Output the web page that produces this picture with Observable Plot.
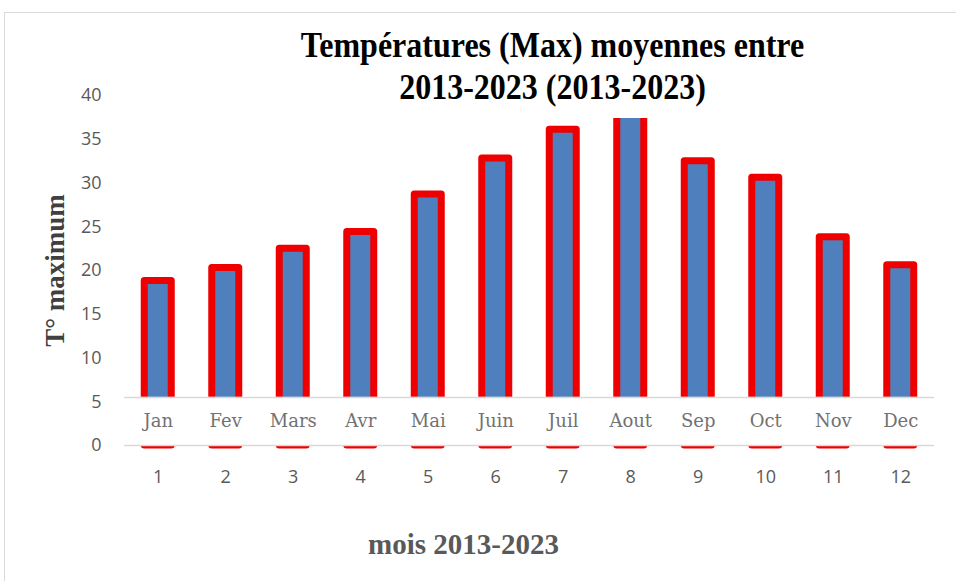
<!DOCTYPE html>
<html><head><meta charset="utf-8">
<script src="https://cdn.jsdelivr.net/npm/d3@7"></script>
<script src="https://cdn.jsdelivr.net/npm/@observablehq/plot@0.6"></script>
<style>
body{margin:0;background:#fff;}
#wrap{position:relative;width:956px;height:581px;overflow:hidden;background:#fff;}
#frame{position:absolute;left:4px;top:12px;width:960px;height:580px;border-left:1.5px solid #d9d9d9;border-top:1.5px solid #d9d9d9;}
#chart{position:absolute;left:0;top:0;}
#title{position:absolute;left:295px;width:515px;top:24px;height:94px;background:#fff;text-align:center;font-family:"Liberation Serif",serif;font-weight:bold;font-size:32px;line-height:42px;color:#000;white-space:nowrap;}
#title span{display:inline-block;transform:scaleY(1.1);}
</style></head>
<body>
<div id="wrap">
  <div id="frame"></div>
  <div id="chart"></div>
  <div id="title"><span>Températures (Max) moyennes entre</span><br><span>2013-2023 (2013-2023)</span></div>
</div>
<script>
const months = [1,2,3,4,5,6,7,8,9,10,11,12];
const monthNames = ["Jan","Fev","Mars","Avr","Mai","Juin","Juil","Aout","Sep","Oct","Nov","Dec"];
const tmax = [18.8,20.3,22.5,24.4,28.7,32.8,36.1,38.6,32.5,30.6,23.8,20.6];
const yTicks = [0,5,10,15,20,25,30,35,40];
const yTitle = "T° maximum";
const xTitle = "mois 2013-2023";

const data = months.map((m,i)=>({m, name: monthNames[i], t: tmax[i]}));

const plot = Plot.plot({
  width: 956, height: 581,
  marginLeft: 124, marginRight: 22, marginTop: 95, marginBottom: 136,
  style: {fontFamily: "'Open Sans', sans-serif", fontSize: "18px", color: "#595959", background: "transparent", overflow: "visible"},
  x: {type: "band", domain: months, paddingInner: 0.6, paddingOuter: 0.3, round: false, label: null, tickSize: 0, tickPadding: 25},
  y: {domain: [0,40], ticks: yTicks, label: null, tickSize: 0, tickPadding: 23},
  marks: [
    Plot.barY(data, {x: "m", y: "t", fill: "#4f7fbd", stroke: "#ee0000", strokeWidth: 7, strokeLinejoin: "round", ariaLabel: "bars"}),
    Plot.rect([0], {y1: () => 0, y2: () => 5.5, fill: "white"}),
    Plot.ruleY([0, 5.5], {stroke: "#d9d9d9", strokeWidth: 1.5}),
    Plot.text(data, {x: "m", y: () => 2.75, text: "name", fontFamily: "'DejaVu Serif', serif", fontSize: 18, fill: "#727272", ariaLabel: "months"}),
    Plot.text([yTitle], {frameAnchor: "left", rotate: -90, textAnchor: "middle", dx: -69, text: d => d, fontFamily: "'Liberation Serif', serif", fontWeight: "bold", fontSize: 27, fill: "#404040"}),
    Plot.text([xTitle], {frameAnchor: "bottom", dx: -66, dy: 108, text: d => d, fontFamily: "'Liberation Serif', serif", fontWeight: "bold", fontSize: 29, fill: "#595959"})
  ]
});
const bars = plot.querySelector('g[aria-label="bars"]');
if (bars) bars.style.filter = "drop-shadow(3px 1px 2px rgba(0,0,0,0.35))";
const ml = plot.querySelector('g[aria-label="months"]');
if (ml) ml.style.filter = "drop-shadow(1px 1px 0.6px rgba(0,0,0,0.25))";
document.getElementById("chart").appendChild(plot);
</script>
</body></html>
